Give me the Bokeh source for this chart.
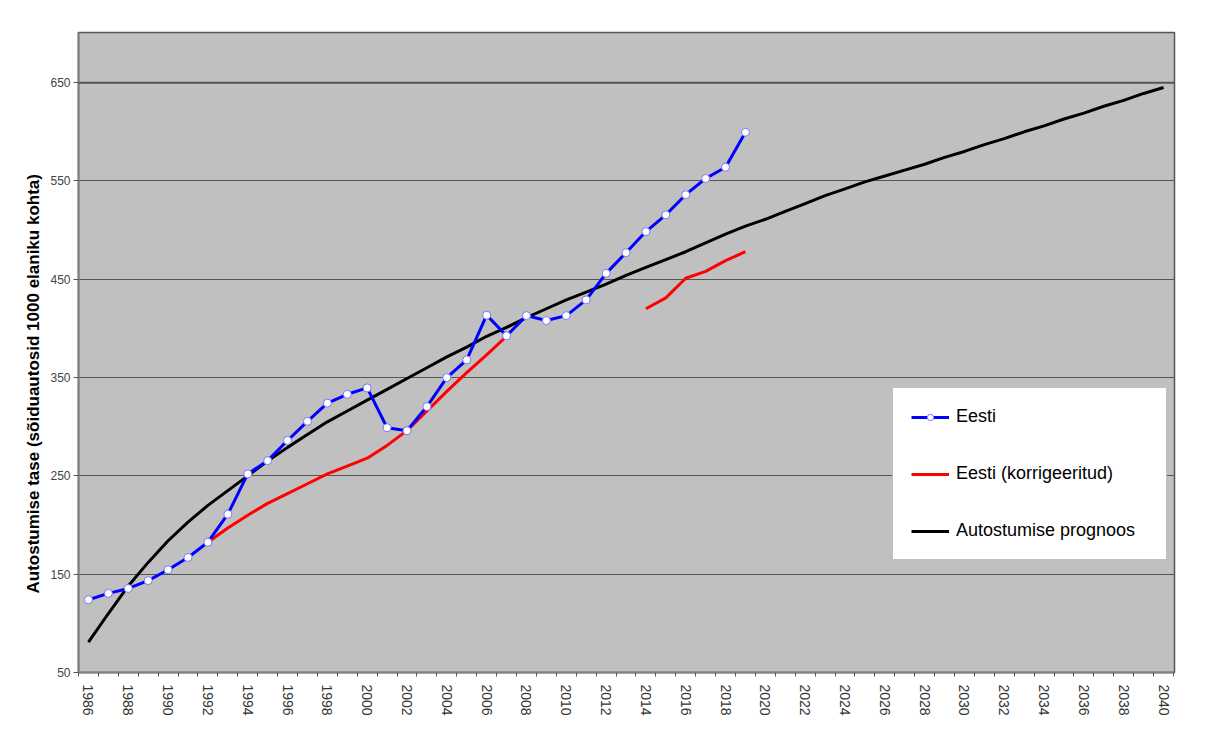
import math
from bokeh.plotting import figure
from bokeh.models import (FixedTicker, Legend, LegendItem, Title, Range1d, Span)
from bokeh.embed import file_html
from bokeh.resources import INLINE

# ---- data ----
eesti_years = list(range(1986, 2020))
eesti_values = [124, 130.5, 135.5, 143.5, 154.5, 167, 182.5, 211, 252, 265.5,
                286, 305.5, 324, 333, 339.5, 299, 296, 320.5, 350, 368,
                413.5, 392.5, 413, 408, 413, 429, 456, 477, 498.5, 515.5,
                536, 552.5, 564, 599.5]

korr_years = list(range(1992, 2020))
korr_values = [182.5, 197, 210, 222, 232, 242, 252, 260, 268, 281,
               296, 316, 336, 355, 373, 392,
               None, None, None, None, None, None,
               420, 431, 451, 458, 469, 478]

prog_years = list(range(1986, 2041))
prog_values = [81, 110, 138, 162, 184, 203, 220, 235, 250, 265,
               279, 292, 305, 316, 327, 338, 349, 360, 371, 381,
               392, 401, 411, 420, 429, 437, 445, 454, 462, 470,
               478, 487, 496, 504, 511, 519, 527, 535, 542, 549,
               555, 561, 567, 574, 580, 587, 593, 600, 606, 613,
               619, 626, 632, 639, 645]

x_tick_years = list(range(1986, 2041, 2))
y_tick_values = [50, 150, 250, 350, 450, 550, 650]

legend_labels = ["Eesti", "Eesti (korrigeeritud)", "Autostumise prognoos"]
y_title = "Autostumise tase (sõiduautosid 1000 elaniku kohta)"

# ---- figure ----
FONT = "Liberation Sans"
p = figure(width=1190, height=728, output_backend="svg", toolbar_location=None,
           x_range=Range1d(1985.5, 2040.55), y_range=Range1d(50, 701),
           min_border_left=78, min_border_right=16, min_border_top=32,
           min_border_bottom=56)
p.background_fill_color = "#C0C0C0"
p.border_fill_color = "white"
p.outline_line_color = "#555555"
p.outline_line_width = 1.5

# grid
p.xgrid.visible = False
p.ygrid.ticker = FixedTicker(ticks=[150, 250, 350, 450, 550, 650])
p.ygrid.grid_line_color = "#555555"
p.ygrid.grid_line_width = 1
p.add_layout(Span(location=650, dimension="width", line_color="#555555", line_width=2))

# x axis
p.xaxis.ticker = FixedTicker(ticks=x_tick_years,
                             minor_ticks=[y + 0.5 for y in range(1985, 2041)])
p.xaxis.major_label_orientation = "vertical"
p.xaxis.major_tick_out = 0
p.xaxis.major_tick_in = 0
p.xaxis.minor_tick_out = 4
p.xaxis.minor_tick_in = 0
p.xaxis.minor_tick_line_color = "#555555"
p.xaxis.major_label_standoff = 8
p.xaxis.major_label_text_font = FONT
p.xaxis.major_label_text_font_size = "14px"
p.xaxis.major_label_text_color = "#333333"
p.xaxis.axis_line_color = "#808080"
p.xaxis.axis_line_width = 2

# y axis
p.yaxis.ticker = FixedTicker(ticks=y_tick_values)
p.yaxis.major_tick_out = 5
p.yaxis.major_tick_in = 0
p.yaxis.minor_tick_out = 0
p.yaxis.minor_tick_in = 0
p.yaxis.major_tick_line_color = "#555555"
p.yaxis.major_label_standoff = 3
p.yaxis.major_label_text_font = FONT
p.yaxis.major_label_text_font_size = "12px"
p.yaxis.major_label_text_color = "#444444"
p.yaxis.axis_line_color = "#808080"
p.yaxis.axis_line_width = 2

# y title as left-side title, shifted along the axis
t = Title(text=y_title, align="left", offset=79, text_font=FONT,
          text_font_size="17px", text_font_style="bold", text_color="black",
          standoff=10)
p.add_layout(t, "left")

# ---- series ----
kv = [float("nan") if v is None else v for v in korr_values]
r_prog = p.line(prog_years, prog_values, line_color="black", line_width=3)
r_korr = p.line(korr_years, kv, line_color="#FF0000", line_width=3)
r_eesti = p.line(eesti_years, eesti_values, line_color="#0000FF", line_width=3)
r_eesti_m = p.scatter(eesti_years, eesti_values, size=8, marker="circle",
                      fill_color="white", line_color="#7777FF", line_width=1)

legend = Legend(items=[
    LegendItem(label=legend_labels[0], renderers=[r_eesti, r_eesti_m]),
    LegendItem(label=legend_labels[1], renderers=[r_korr]),
    LegendItem(label=legend_labels[2], renderers=[r_prog]),
], location=(814, 112))
legend.padding = 18
legend.spacing = 36
legend.label_height = 16
legend.glyph_height = 16
legend.glyph_width = 38
legend.label_standoff = 7
legend.label_width = 192
legend.label_text_font = FONT
legend.label_text_font_size = "18px"
legend.label_text_color = "black"
legend.border_line_color = "#808080"
legend.border_line_width = 1
legend.background_fill_color = "white"
legend.background_fill_alpha = 1.0
legend.margin = 0
p.add_layout(legend, "center")

open("out.html", "w").write(file_html(p, INLINE))
